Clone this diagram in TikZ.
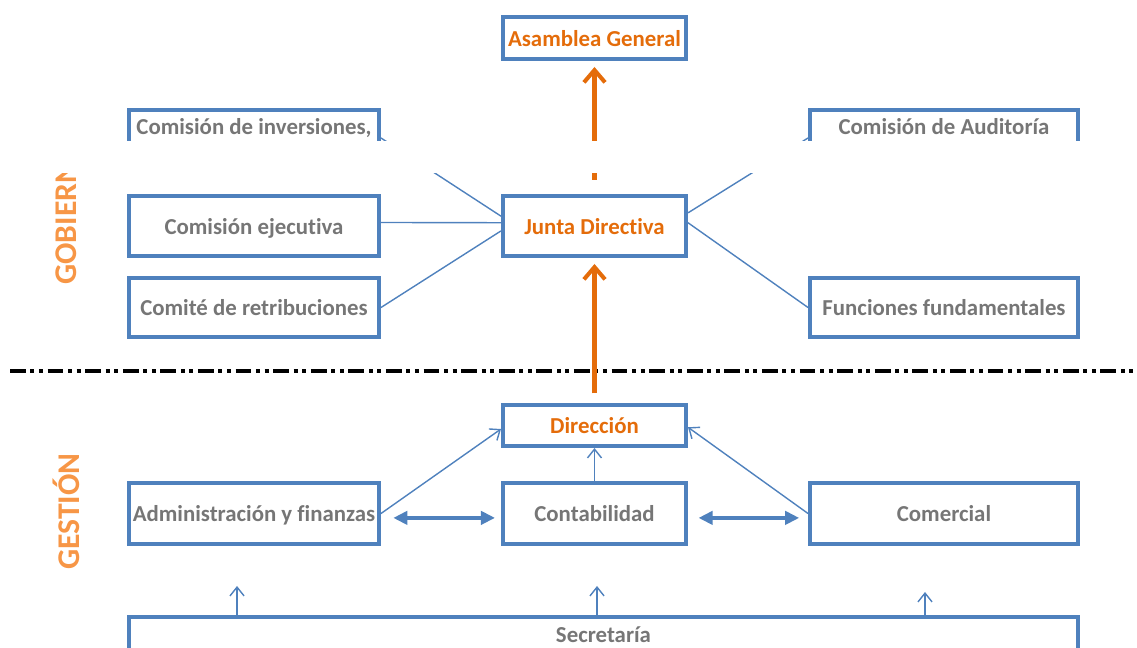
\documentclass[tikz,border=0pt]{standalone}
\usepackage{fontspec}
\setmainfont{Carlito}[Ligatures=NoCommon]
\usetikzlibrary{arrows.meta}
\definecolor{boxblue}{RGB}{79,129,189}
\definecolor{txtgray}{RGB}{118,118,118}
\definecolor{darkorange}{RGB}{228,108,10}
\definecolor{lightorange}{RGB}{247,150,70}

\begin{document}
\begin{tikzpicture}[x=0.02cm, y=-0.02cm,
    every node/.style={font=\fontsize{13}{15}\selectfont\bfseries},
    box/.style={draw=boxblue, line width=2.3pt, text=txtgray, inner sep=1pt, text height=10pt, text depth=0.5pt},
    midbox/.style={box, minimum width=3.66cm},
    leftbox/.style={box, minimum width=5cm},
    rightbox/.style={box, minimum width=5.36cm},
    title/.style={text=darkorange},
    link/.style={draw=boxblue, line width=0.8pt},
    upline/.style={link, -{Straight Barb[length=5pt,width=8pt]}},
    twoway/.style={draw=boxblue, line width=2pt, {Triangle[length=8pt,width=7.5pt]}-{Triangle[length=8pt,width=7.5pt]}},
    mainarrow/.style={draw=darkorange, line width=2.3pt, -{Straight Barb[length=7pt,width=12pt]}},
    sidelabel/.style={text=lightorange, font=\fontsize{18}{20}\selectfont\bfseries, rotate=90, anchor=west, inner sep=0pt}]

    \useasboundingbox (0,0) rectangle (1137,648);
    \clip (0,0) rectangle (1137,648);

    % Gobierno
    \node[midbox, title, minimum height=0.84cm] (asam) at (594.5,38) {Asamblea General};
    \node[leftbox, text height=0.46cm, text depth=0.6cm] (inv) at (254,138) {Comisión de inversiones,};
    \node[rightbox, text height=0.46cm, text depth=0.6cm] (aud) at (944,138) {Comisión de Auditoría};
    \node[leftbox, minimum height=1.2cm] (eje) at (254,226) {Comisión ejecutiva};
    \node[midbox, title, minimum height=1.2cm] (junta) at (594.5,226) {Junta Directiva};
    \node[leftbox, minimum height=1.18cm] (ret) at (254,307.5) {Comité de retribuciones};
    \node[rightbox, minimum height=1.18cm] (fun) at (944,307.5) {Funciones fundamentales};
    \node[sidelabel] (gob) at (66,285) {GOBIERNO};

    \draw[link] (inv.east) -- (junta.174);
    \draw[link] ([yshift=2pt]eje.east) -- (junta.178);
    \draw[link] (ret.east) -- (junta.183);
    \draw[link] (aud.west) -- (junta.8);
    \draw[link] (fun.west) -- (junta.2);
    \draw[mainarrow, shorten <=8pt, shorten >=3.4pt] (junta) -- (asam);

    % divider
    \draw[line width=2pt, dash pattern=on 9pt off 2.6pt on 2.3pt off 2.6pt on 2.3pt off 2.6pt] (10,371) -- (1137,371);

    % Gestion
    \node[midbox, title, minimum height=0.82cm] (dir) at (594.5,425.5) {Dirección};
    \node[leftbox, minimum height=1.22cm] (adm) at (254,513.5) {Administración y finanzas};
    \node[midbox, minimum height=1.22cm] (cont) at (594.5,513.5) {Contabilidad};
    \node[rightbox, minimum height=1.22cm] (com) at (944,513.5) {Comercial};
    \node[box, minimum width=18.98cm, minimum height=0.68cm] (sec) at (603.5,634) {Secretaría};
    \node[sidelabel] (ges) at (66,570) {GESTIÓN};

    \draw[mainarrow, shorten <=5.5pt, shorten >=3.4pt] (dir) -- (junta);
    \draw[upline] (adm.east) -- ([yshift=-2pt]dir.west);
    \draw[upline] (com.west) -- ([yshift=-1pt]dir.east);
    \draw[upline] (cont) -- (dir);
    \draw[twoway, shorten <=7pt, shorten >=3.4pt] ([yshift=-2.5pt]adm.east) -- ([yshift=-2.5pt]cont.west);
    \draw[twoway, shorten <=6pt, shorten >=5pt] ([yshift=-2.5pt]cont.east) -- ([yshift=-2.5pt]com.west);

    \coordinate (s1) at (237,586);
    \coordinate (s2) at (597,586);
    \coordinate (s3) at (925,592);
    \draw[upline] (sec.north -| s1) -- (s1);
    \draw[upline] (sec.north -| s2) -- (s2);
    \draw[upline] (sec.north -| s3) -- (s3);

    % cut
    \fill[white] (0,141) rectangle (1137,173);

\end{tikzpicture}
\end{document}
